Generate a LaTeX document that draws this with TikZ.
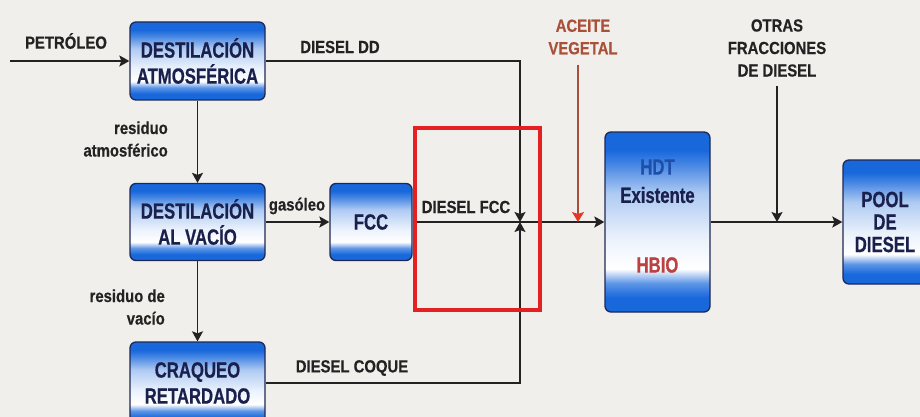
\documentclass[tikz,border=0pt]{standalone}
\usepackage{fontspec}
\setmainfont{Liberation Sans}
\newfontfamily\boxfont{Liberation Sans}[FakeStretch=0.76, BoldFeatures={FakeBold=0.6}]
\newfontfamily\lblfont{Liberation Sans}[FakeStretch=0.85, BoldFeatures={FakeBold=0.4}]
\usetikzlibrary{arrows.meta}
\definecolor{paper}{RGB}{240,239,235}
\definecolor{bxblue}{RGB}{24,104,220}
\definecolor{bxline}{RGB}{30,40,85}
\definecolor{bxtext}{RGB}{26,32,76}
\definecolor{flowgray}{RGB}{35,33,33}
\definecolor{oilbrown}{RGB}{170,80,58}
\definecolor{oilred}{RGB}{228,55,40}
\definecolor{hdtblue}{RGB}{30,80,170}
\definecolor{hbiored}{RGB}{188,66,66}
\definecolor{markred}{RGB}{228,32,32}
\pgfdeclareverticalshading{unitshade}{100bp}{color(0bp)=(bxblue); color(29bp)=(bxblue); color(33bp)=(bxblue!70!white); color(37bp)=(white); color(45bp)=(bxblue!8!white); color(58bp)=(bxblue!35!white); color(66bp)=(bxblue!80!white); color(70bp)=(bxblue); color(100bp)=(bxblue)}
\tikzset{
  unit/.style={draw=bxline, line width=1.3pt, rounded corners=6pt, shade, shading=unitshade,
    text=bxtext, align=center, inner sep=0pt, font=\boxfont\bfseries\fontsize{22}{26}\selectfont},
  unittxt/.style={inner sep=0pt, font=\boxfont\bfseries\fontsize{22}{26}\selectfont},
  lbl/.style={text=flowgray, inner sep=0pt, font=\lblfont\bfseries\fontsize{17.5}{22.5}\selectfont},
  flow/.style={draw=flowgray, line width=1.7pt, -{Stealth[length=10pt,width=11pt,inset=2pt]}},
  oil/.style={draw=oilbrown, line width=1.3pt, -{Stealth[length=10pt,width=12pt,inset=2pt,color=oilred]}},
  hlbox/.style={draw=markred, line width=4.5pt},
}

\begin{document}
\begin{tikzpicture}[x=1pt,y=-1pt]
\useasboundingbox (0,0) rectangle (920,417);
\fill[paper] (0,0) rectangle (920,417);
\node[unit, minimum width=135pt, minimum height=78pt] (atm) at (197.5,61) {DESTILACIÓN\\ATMOSFÉRICA};
\node[unit, minimum width=135pt, minimum height=77pt] (vac) at (197.5,222) {DESTILACIÓN\\AL VACÍO};
\node[unit, minimum width=82pt, minimum height=77pt] (fcc) at (371,222) {FCC};
\node[unit, minimum width=135pt, minimum height=82pt] (crq) at (197.5,383) {CRAQUEO\\RETARDADO};
\node[unit, minimum width=105pt, minimum height=180pt] (hdt) at (657.5,222) {};
\node[unittxt, text=hdtblue] (hdtname) at (657.5,167) {HDT};
\node[unittxt, text=bxtext] (hdtold) at (657.5,195) {Existente};
\node[unittxt, text=hbiored] (hbio) at (657.5,265) {HBIO};
\node[unit, minimum width=84pt, minimum height=124pt, font=\boxfont\bfseries\fontsize{22}{22.5}\selectfont] (pool) at (885,222) {POOL\\DE\\DIESEL};

\node[lbl] (crudelbl) at (66,41) {PETRÓLEO};
\node[lbl] (ddlbl) at (340,47) {DIESEL DD};
\node[lbl, align=right, anchor=east] (atmres) at (168,139) {residuo\\atmosférico};
\node[lbl] (gaslbl) at (297,206) {gasóleo};
\node[lbl] (fcclbl) at (466,207) {DIESEL FCC};
\node[lbl, align=right, anchor=east] (vacres) at (165,307) {residuo de\\vacío};
\node[lbl] (coqlbl) at (352,368) {DIESEL COQUE};
\node[lbl, text=oilbrown, align=center] (aceite) at (583,37) {ACEITE\\VEGETAL};
\node[lbl, align=center] (otras) at (777,48) {OTRAS\\FRACCIONES\\DE DIESEL};

\coordinate (crude) at (10,61);
\coordinate (jn) at (520,222);
\draw[flow] (crude) -- (atm);
\draw[flow] (atm) -- (vac);
\draw[flow] (vac) -- (crq);
\draw[flow] (vac) -- (fcc);
\draw[flow] (atm.east) -| (jn);
\draw[flow] (crq.east) -| (jn);
\draw[flow] (fcc) -- (hdt);
\draw[flow] (hdt) -- (pool);
\draw[oil, shorten <=10pt] ([xshift=-5pt]aceite.south) -- ([xshift=-5pt]aceite.south |- jn);
\draw[flow, shorten <=9pt] (otras.south) -- (otras.south |- jn);
\draw[hlbox] (415,128) rectangle (540,310);
\end{tikzpicture}
\end{document}
